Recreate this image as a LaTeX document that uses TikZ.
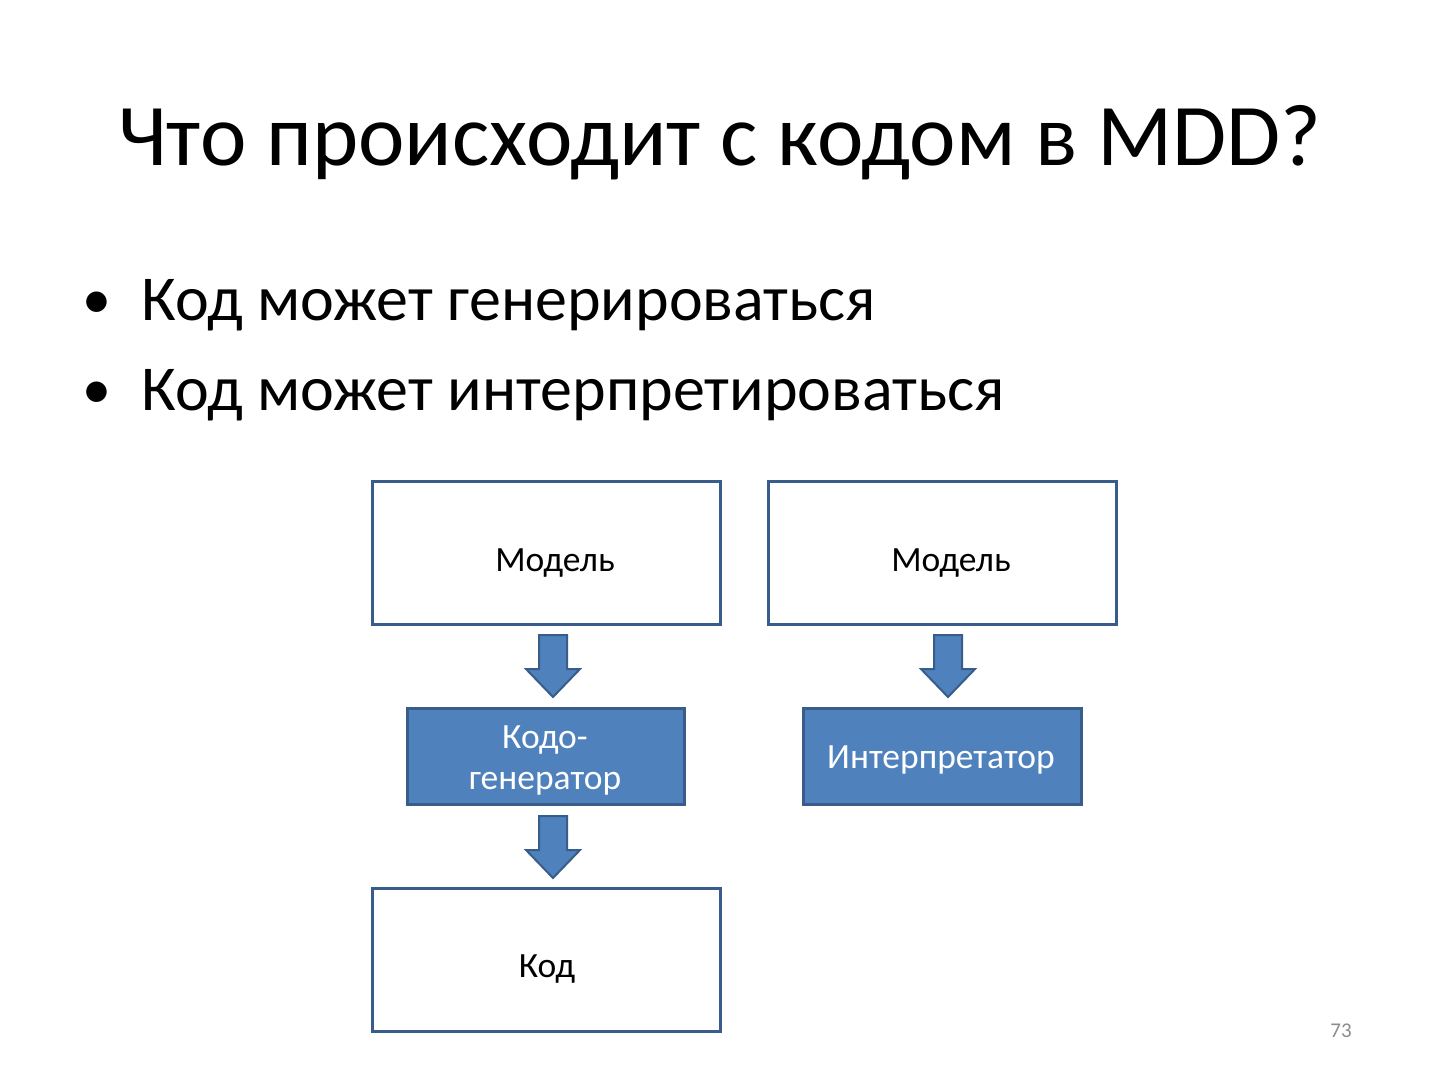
\documentclass[tikz,border=0pt]{standalone}
\usepackage{fontspec}
\setmainfont{Carlito}
\definecolor{accfill}{HTML}{4F81BD}
\definecolor{accline}{HTML}{385D8A}
\definecolor{pgnum}{HTML}{8C8C8C}
\begin{document}
\begin{tikzpicture}[x=1pt,y=-1pt,
  whitebox/.style={draw=accline,line width=3pt,fill=white},
  bluebox/.style={draw=accline,line width=3pt,fill=accfill},
  blockarrow/.style={draw=accline,line width=2pt,fill=accfill,line join=miter},
  boxtext/.style={inner sep=0pt,anchor=base,font=\fontsize{35.5}{40}\selectfont},
  bluetext/.style={boxtext,text=white},
  bullettext/.style={inner sep=0pt,anchor=base west,font=\fontsize{64}{76}\selectfont}]
\useasboundingbox (0,0) rectangle (1440,1080);
\fill[white] (0,0) rectangle (1440,1080);
% title
\node[inner sep=0pt,anchor=base,font=\fontsize{88}{100}\selectfont] (title) at (720,165) {Что происходит с кодом в MDD?};
% bullets
\node[inner sep=0pt,anchor=base,font=\fontsize{58}{70}\selectfont] (b1dot) at (97,318) {•};
\node[bullettext] (b1) at (141,320) {Код может генерироваться};
\node[inner sep=0pt,anchor=base,font=\fontsize{58}{70}\selectfont] (b2dot) at (97,408) {•};
\node[bullettext] (b2) at (141,410) {Код может интерпретироваться};
% boxes
\draw[whitebox] (372,481) rectangle (720,624);
\node[boxtext] (m1) at (555,571) {Модель};
\draw[whitebox] (768,481) rectangle (1116,624);
\node[boxtext] (m2) at (951,571) {Модель};
\draw[bluebox] (407,708) rectangle (684,804);
\node[bluetext] (gen1) at (545,748) {Кодо-};
\node[bluetext] (gen2) at (545,789) {генератор};
\draw[bluebox] (803,708) rectangle (1081,804);
\node[bluetext] (interp) at (941,768) {Интерпретатор};
\draw[whitebox] (372,888) rectangle (720,1031);
\node[boxtext] (code) at (547,977) {Код};
% block arrows
\foreach \cx/\ty in {553/635, 553/816, 948/635} {
  \draw[blockarrow] (\cx-14,\ty) -- (\cx+14,\ty) -- (\cx+14,\ty+34) -- (\cx+27,\ty+34)
     -- (\cx,\ty+62) -- (\cx-27,\ty+34) -- (\cx-14,\ty+34) -- cycle;
}
% page number
\node[inner sep=0pt,anchor=base,text=pgnum,font=\fontsize{21}{24}\selectfont] (pg) at (1341,1037) {73};
\end{tikzpicture}
\end{document}
